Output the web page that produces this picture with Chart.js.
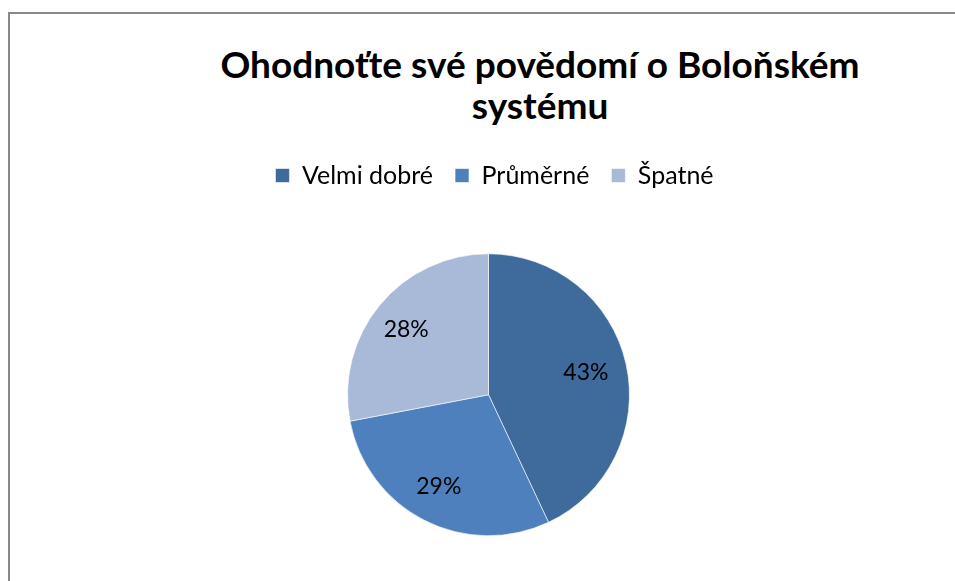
<!DOCTYPE html>
<html>
<head>
<meta charset="utf-8">
<script src="https://cdn.jsdelivr.net/npm/chart.js@4"></script>
<style>
    body { margin: 0; background: #fff; overflow: hidden; }
    .frame {
        position: absolute;
        left: 8px;
        top: 12px;
        width: 1000px;
        height: 700px;
        border-left: 2px solid #888;
        border-top: 2px solid #888;
    }
    .title {
        position: absolute;
        left: 140px;
        top: 43px;
        width: 800px;
        text-align: center;
        font-family: Lato, sans-serif;
        font-weight: bold;
        font-size: 37px;
        line-height: 41px;
        color: #000;
    }
    .chart-box {
        position: absolute;
        left: 0;
        top: 0;
        width: 955px;
        height: 581px;
    }
</style>
</head>
<body>
<div class="frame"></div>
<div class="title">Ohodnoťte své povědomí o Boloňském<br>systému</div>
<div class="chart-box"><canvas id="pie-chart"></canvas></div>

<script>
const categories = ['Velmi dobré', 'Průměrné', 'Špatné'];
const values = [43, 29, 28];
const colors = ['#3f6a9c', '#4e80bd', '#a9b9d8'];

// push the pie down below the legend, nudge legend a bit right
const legendGap = {
    id: 'legendGap',
    beforeInit(chart) {
        const fit = chart.legend.fit;
        chart.legend.fit = function () {
            fit.bind(chart.legend)();
            this.height += 55.5;
        }
    },
    afterLayout(chart) {
        chart.legend.left += 6;
        chart.legend.right += 6;
    }
}

// percent labels inside the slices
const pctLabels = {
    id: 'pctLabels',
    afterDatasetsDraw(chart) {
        const ctx = chart.ctx;
        const meta = chart.getDatasetMeta(0);
        const total = values.reduce((a, b) => a + b, 0);
        ctx.save();
        ctx.font = '23px Lato, sans-serif';
        ctx.fillStyle = '#000';
        ctx.textAlign = 'center';
        ctx.textBaseline = 'middle';
        meta.data.forEach((arc, i) => {
            const mid = (arc.startAngle + arc.endAngle) / 2;
            const r = arc.outerRadius * 0.73;
            const x = arc.x + Math.cos(mid) * r - 3;
            const y = arc.y + Math.sin(mid) * r;
            ctx.fillText(Math.round(values[i] / total * 100) + '%', x, y);
        });
        ctx.restore();
    }
}

let pieCtx = document.getElementById('pie-chart').getContext('2d');

let pieChart = new Chart(pieCtx, {
    type: 'pie',
    data: {
        labels: categories,
        datasets: [{
            data: values,
            backgroundColor: colors,
            borderColor: '#ffffff',
            borderWidth: 0.6
        }]
    },
    options: {
        responsive: true,
        maintainAspectRatio: false,
        animation: false,
        layout: {
            padding: { left: 22, right: 0, top: 141, bottom: 45 }
        },
        plugins: {
            title: { display: false },
            tooltip: { enabled: false },
            legend: {
                display: true,
                position: 'top',
                labels: {
                    font: { family: 'Lato, sans-serif', size: 25 },
                    color: '#000',
                    boxWidth: 14,
                    boxHeight: 14,
                    padding: 22
                }
            }
        }
    },
    plugins: [legendGap, pctLabels]
})
</script>
</body>
</html>
